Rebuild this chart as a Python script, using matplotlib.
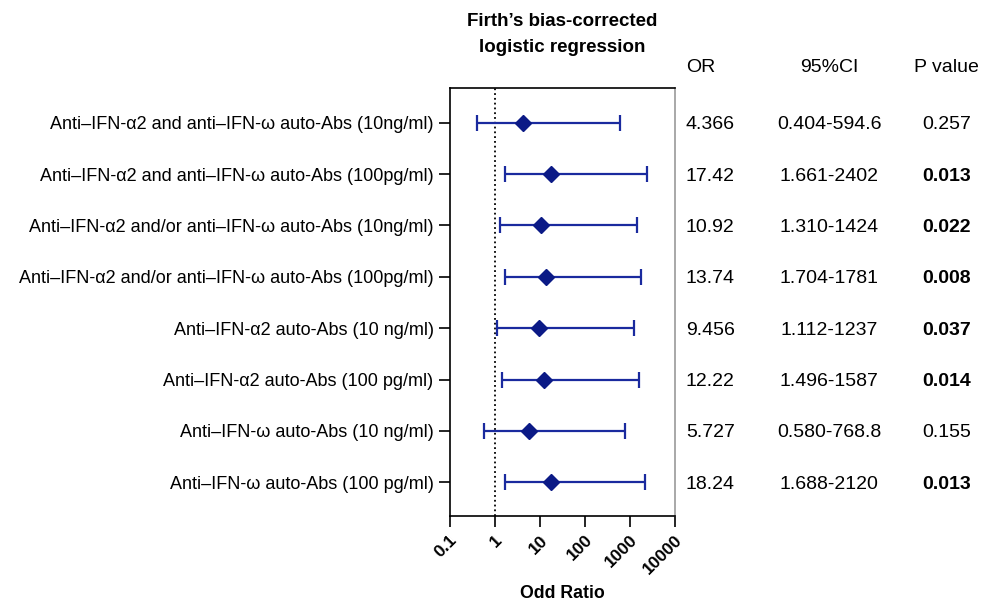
import numpy as np
import matplotlib.pyplot as plt

plt.rcParams['font.family'] = ['Liberation Sans', 'DejaVu Sans']

# data
labels = [
    "Anti–IFN-α2 and anti–IFN-ω auto-Abs (10ng/ml)",
    "Anti–IFN-α2 and anti–IFN-ω auto-Abs (100pg/ml)",
    "Anti–IFN-α2 and/or anti–IFN-ω auto-Abs (10ng/ml)",
    "Anti–IFN-α2 and/or anti–IFN-ω auto-Abs (100pg/ml)",
    "Anti–IFN-α2 auto-Abs (10 ng/ml)",
    "Anti–IFN-α2 auto-Abs (100 pg/ml)",
    "Anti–IFN-ω auto-Abs (10 ng/ml)",
    "Anti–IFN-ω auto-Abs (100 pg/ml)",
]
odds = [4.366, 17.42, 10.92, 13.74, 9.456, 12.22, 5.727, 18.24]
ci_low = [0.404, 1.661, 1.310, 1.704, 1.112, 1.496, 0.580, 1.688]
ci_high = [594.6, 2402, 1424, 1781, 1237, 1587, 768.8, 2120]
or_text = ["4.366", "17.42", "10.92", "13.74", "9.456", "12.22", "5.727", "18.24"]
ci_text = ["0.404-594.6", "1.661-2402", "1.310-1424", "1.704-1781",
           "1.112-1237", "1.496-1587", "0.580-768.8", "1.688-2120"]
p_vals = [0.257, 0.013, 0.022, 0.008, 0.037, 0.014, 0.155, 0.013]
xticks = [0.1, 1, 10, 100, 1000, 10000]
xtick_labels = ["0.1", "1", "10", "100", "1000", "10000"]

odds = np.array(odds)
ci_low = np.array(ci_low)
ci_high = np.array(ci_high)
y = np.arange(len(labels))

fig = plt.figure(figsize=(9.89, 6.05), dpi=100)
ax = fig.add_axes([0.4545, 0.1476, 0.2279, 0.7066])

ax.axvline(1, color='black', linestyle=':', linewidth=1.3, zorder=1)
ax.errorbar(odds, y, xerr=[odds - ci_low, ci_high - odds], fmt='D',
            color='#1a2a9e', mfc='#0b1a86', mec='#0b1a86', ms=8,
            elinewidth=1.6, capsize=5.5, capthick=1.6, zorder=3)

ax.set_xscale('log')
ax.set_xlim(0.1, 10000)
ax.set_ylim(7.65, -0.67)
ax.set_xticks(xticks)
ax.set_xticklabels(xtick_labels, rotation=45, ha='right', rotation_mode='anchor',
                   fontweight='bold', fontsize=12.5)
ax.minorticks_off()
ax.set_yticks(y)
ax.set_yticklabels(labels, fontsize=13)
ax.tick_params(axis='both', length=8, width=1.2, direction='out')
ax.tick_params(axis='x', pad=4)
for s in ['left', 'bottom', 'top']:
    ax.spines[s].set_linewidth(1.2)
ax.spines['right'].set_color('#999999')
ax.spines['right'].set_linewidth(1.2)
ax.set_xlabel("Odd Ratio", fontweight='bold', fontsize=12.8, labelpad=6)

# table to the right
tr = ax.get_yaxis_transform()
hy = -1.12
fs = 14
ax.text(1.049, hy, "OR", transform=tr, ha='left', va='center_baseline', fontsize=fs)
ax.text(1.684, hy, "95%CI", transform=tr, ha='center', va='center_baseline', fontsize=fs)
ax.text(2.204, hy, "P value", transform=tr, ha='center', va='center_baseline', fontsize=fs)
for i in range(len(labels)):
    ax.text(1.049, y[i], or_text[i], transform=tr, ha='left', va='center_baseline', fontsize=fs)
    ax.text(1.684, y[i], ci_text[i], transform=tr, ha='center', va='center_baseline', fontsize=fs)
    ax.text(2.204, y[i], "%.3f" % p_vals[i], transform=tr, ha='center', va='center_baseline',
            fontsize=fs, fontweight='bold' if p_vals[i] < 0.05 else 'normal')

fig.text(0.568, 0.978, "Firth’s bias-corrected\nlogistic regression", ha='center', va='top',
         fontweight='bold', fontsize=13.5, linespacing=1.68)

fig.savefig("out.png", dpi=100)
